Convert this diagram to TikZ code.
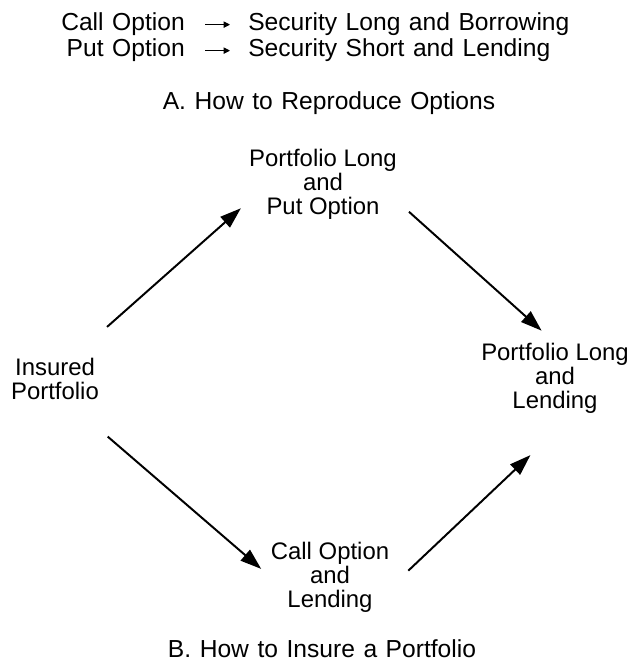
\documentclass[tikz,border=0pt]{standalone}
\usepackage{fontspec}
\setmainfont{Liberation Sans}
\newfontfamily\wide[WordSpace=1.25]{Liberation Sans}
\usetikzlibrary{arrows.meta}
\tikzset{
	lbl/.style={font=\fontsize{17}{17}\selectfont, align=center, inner sep=0pt},
	line/.style={font=\wide\fontsize{17.5}{17}\selectfont, inner sep=0pt},
	big/.style={line width=1.4pt, -{Triangle[length=15pt,width=10pt]}},
	small/.style={line width=0.7pt, -{Triangle[length=4.5pt,width=4.5pt]}}
}
\begin{document}
\begin{tikzpicture}[x=0.025cm, y=-0.025cm]
		\useasboundingbox (0,0) rectangle (641,668);

		\node(call)[line, anchor=base east] at (185,31){Call Option};
		\node(callrep)[line, anchor=base west] at (248,31){Security Long and Borrowing};
		\node(put)[line, anchor=base east] at (185,57){Put Option};
		\node(putrep)[line, anchor=base west] at (248,57){Security Short and Lending};
		\draw[small, shorten <=0.5cm, shorten >=0.45cm] (call.east) -- (callrep.west);
		\draw[small, shorten <=0.5cm, shorten >=0.45cm] (put.east) -- (putrep.west);
		\node(capa)[line, anchor=base] at (329,110){A. How to Reproduce Options};

		\node(top)[lbl] at (323,184){Portfolio Long\\and\\Put Option};
		\node(ins)[lbl] at (55,379){Insured\\Portfolio};
		\node(right)[lbl] at (555,378){Portfolio Long\\and\\Lending};
		\node(bot)[lbl] at (330,577){Call Option\\and\\Lending};
		\node(capb)[line, anchor=base] at (322,657){B. How to Insure a Portfolio};

		\draw[big, shorten <=1.17cm, shorten >=0.27cm] (ins.51) -- (top.193);
		\draw[big, shorten <=0.4cm, shorten >=0.45cm] (top.-13) -- (right.north);
		\draw[big, shorten <=1.4cm, shorten >=0.31cm] (ins.-64) -- (bot.west);
		\draw[big, shorten <=0.65cm, shorten >=1.52cm] (bot.-11) -- (right.-61);
	\end{tikzpicture}
\end{document}
